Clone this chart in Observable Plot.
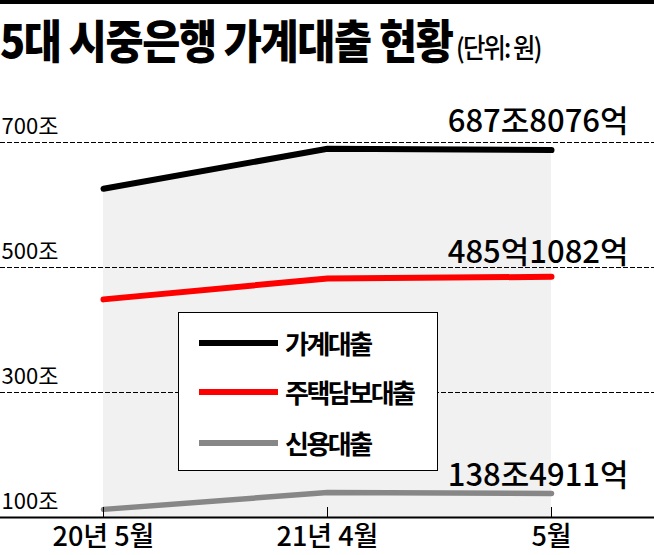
<!DOCTYPE html>
<html>
<head>
<meta charset="utf-8">
<script src="https://cdn.jsdelivr.net/npm/d3@7"></script>
<script src="https://cdn.jsdelivr.net/npm/@observablehq/plot@0.6"></script>
<style>
  body { margin: 0; background: #fff; font-family: "Noto Sans CJK KR", sans-serif; }
  #wrap { position: relative; width: 654px; height: 555px; overflow: hidden; }
  #bar { position: absolute; left: 0; top: 0; width: 654px; height: 4px; background: #000; }
  #title { position: absolute; left: 0; top: 5px; white-space: nowrap; transform-origin: left top; transform: scaleX(0.9); }
  #title .main { font-size: 46px; font-weight: 900; letter-spacing: -1.5px; color: #000; }
  #title .unit { font-size: 27px; font-weight: 500; letter-spacing: -2px; color: #000; }
  #chart { position: absolute; left: 0; top: 90px; }
  #legend { position: absolute; left: 178px; top: 312px; width: 258px; height: 157px; border: 1.5px solid #000; background: #fff; }
  .lline { position: absolute; left: 20px; width: 79px; height: 6px; }
  .ltext { position: absolute; left: 106px; font-size: 26px; font-weight: 700; letter-spacing: -2.5px; white-space: nowrap; line-height: 30px; }
</style>
</head>
<body>
<div id="wrap">
  <div id="bar"></div>
  <div id="title"><span class="main">5대 시중은행 가계대출 현황</span><span class="unit"> (단위: 원)</span></div>
  <div id="chart"></div>
  <div id="legend"></div>
</div>
<script>
const dates = ["20년 5월", "21년 4월", "5월"];
const household = [626, 690, 687.8076];
const mortgage = [449, 482.4, 485.1082];
const credit = [113, 140, 138.4911];
const yTicks = [100, 300, 500, 700];
const yTickLabels = ["100조", "300조", "500조", "700조"];
const seriesNames = ["가계대출", "주택담보대출", "신용대출"];
const seriesColors = ["#000000", "#ff0000", "#878787"];
const endLabels = ["687조8076억", "485억1082억", "138조4911억"];

const rows = dates.map((d, i) => ({ i, date: d, household: household[i], mortgage: mortgage[i], credit: credit[i] }));
const last = [rows[rows.length - 1]];
const pad = 103 / 224;
const font = "'Noto Sans CJK KR', sans-serif";
const endStyle = { textAnchor: "end", lineAnchor: "bottom", dx: 77, fontSize: 31, fontWeight: 500, letterSpacing: "-3px", fill: "#000" };

const chart = Plot.plot({
  width: 654,
  height: 465,
  marginLeft: 0,
  marginRight: 0,
  marginTop: 52,
  marginBottom: 38,
  style: { fontFamily: font, overflow: "visible", background: "transparent" },
  x: { type: "linear", domain: [-pad, dates.length - 1 + pad] },
  y: { domain: [100, 700], axis: null },
  marks: [
    Plot.areaY(rows, { x: "i", y1: 100, y2: "household", fill: "#f1f1f1" }),
    Plot.ruleY(yTicks.filter(d => d > 100), { stroke: "#000", strokeWidth: 1, strokeDasharray: "5,2" }),
    Plot.line(rows, { x: "i", y: "credit", stroke: seriesColors[2], strokeWidth: 5.5, strokeLinecap: "round", strokeLinejoin: "round" }),
    Plot.line(rows, { x: "i", y: "mortgage", stroke: seriesColors[1], strokeWidth: 6, strokeLinecap: "round", strokeLinejoin: "round" }),
    Plot.line(rows, { x: "i", y: "household", stroke: seriesColors[0], strokeWidth: 6, strokeLinecap: "round", strokeLinejoin: "round" }),
    Plot.ruleY([100], { stroke: "#000", strokeWidth: 2 }),
    Plot.ruleX(rows, { x: "i", y1: 100, y2: 116, stroke: "#000", strokeWidth: 1 }),
    Plot.text(yTicks, { y: d => d, text: (d, i) => yTickLabels[i], frameAnchor: "left", textAnchor: "start", dx: 1, dy: -16, fontSize: 22, letterSpacing: "-2px", fill: "#000" }),
    Plot.axisX(rows.map(r => r.i), { label: null, tickFormat: i => dates[i], tickSize: 0, tickPadding: 9, fontSize: 27, fontWeight: 500, letterSpacing: "-2.5px", stroke: null, fill: "#000" }),
    Plot.text(last, { x: "i", y: "household", text: () => endLabels[0], dy: -18, ...endStyle }),
    Plot.text(last, { x: "i", y: "mortgage", text: () => endLabels[1], dy: -14, ...endStyle }),
    Plot.text(last, { x: "i", y: "credit", text: () => endLabels[2], dy: -7, ...endStyle })
  ]
});
document.getElementById("chart").appendChild(chart);

const legend = document.getElementById("legend");
const rowTops = [15, 64, 115];
seriesNames.forEach((name, k) => {
  const line = document.createElement("div");
  line.className = "lline";
  line.style.top = (rowTops[k] + 12) + "px";
  line.style.background = seriesColors[k];
  legend.appendChild(line);
  const t = document.createElement("div");
  t.className = "ltext";
  t.style.top = rowTops[k] + "px";
  t.textContent = name;
  legend.appendChild(t);
});
</script>
</body>
</html>
